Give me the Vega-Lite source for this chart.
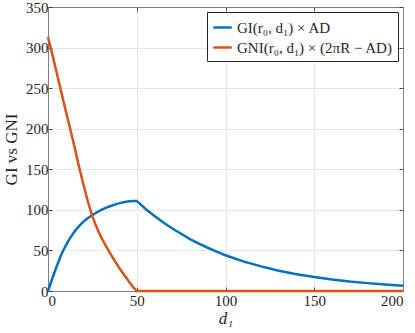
{
  "$schema": "https://vega.github.io/schema/vega-lite/v6.json",
  "width": 355,
  "height": 284,
  "autosize": {"type": "none"},
  "padding": {"left": 48, "top": 7, "right": 12, "bottom": 42},
  "background": "white",
  "config": {
    "view": {"stroke": null},
    "font": "Liberation Serif"
  },
  "datasets": {
    "curves": [
      {"d": 0, "v": 0, "s": "GI(r₀, d₁) × AD"},
      {"d": 2.5, "v": 16, "s": "GI(r₀, d₁) × AD"},
      {"d": 5, "v": 31, "s": "GI(r₀, d₁) × AD"},
      {"d": 7.5, "v": 45, "s": "GI(r₀, d₁) × AD"},
      {"d": 10, "v": 56, "s": "GI(r₀, d₁) × AD"},
      {"d": 12.5, "v": 65.5, "s": "GI(r₀, d₁) × AD"},
      {"d": 15, "v": 73.5, "s": "GI(r₀, d₁) × AD"},
      {"d": 17.5, "v": 80, "s": "GI(r₀, d₁) × AD"},
      {"d": 20, "v": 85.5, "s": "GI(r₀, d₁) × AD"},
      {"d": 22.5, "v": 90, "s": "GI(r₀, d₁) × AD"},
      {"d": 25, "v": 93.5, "s": "GI(r₀, d₁) × AD"},
      {"d": 27.5, "v": 97, "s": "GI(r₀, d₁) × AD"},
      {"d": 30, "v": 100, "s": "GI(r₀, d₁) × AD"},
      {"d": 32.5, "v": 102.5, "s": "GI(r₀, d₁) × AD"},
      {"d": 35, "v": 104.5, "s": "GI(r₀, d₁) × AD"},
      {"d": 37.5, "v": 106.5, "s": "GI(r₀, d₁) × AD"},
      {"d": 40, "v": 108, "s": "GI(r₀, d₁) × AD"},
      {"d": 42.5, "v": 109.3, "s": "GI(r₀, d₁) × AD"},
      {"d": 45, "v": 110.2, "s": "GI(r₀, d₁) × AD"},
      {"d": 47.5, "v": 110.8, "s": "GI(r₀, d₁) × AD"},
      {"d": 50, "v": 111, "s": "GI(r₀, d₁) × AD"},
      {"d": 55, "v": 101, "s": "GI(r₀, d₁) × AD"},
      {"d": 60, "v": 92.5, "s": "GI(r₀, d₁) × AD"},
      {"d": 65, "v": 84.5, "s": "GI(r₀, d₁) × AD"},
      {"d": 70, "v": 77, "s": "GI(r₀, d₁) × AD"},
      {"d": 75, "v": 70.5, "s": "GI(r₀, d₁) × AD"},
      {"d": 80, "v": 64, "s": "GI(r₀, d₁) × AD"},
      {"d": 85, "v": 58.5, "s": "GI(r₀, d₁) × AD"},
      {"d": 90, "v": 53.3, "s": "GI(r₀, d₁) × AD"},
      {"d": 95, "v": 48.5, "s": "GI(r₀, d₁) × AD"},
      {"d": 100, "v": 44, "s": "GI(r₀, d₁) × AD"},
      {"d": 110, "v": 36.5, "s": "GI(r₀, d₁) × AD"},
      {"d": 120, "v": 30.3, "s": "GI(r₀, d₁) × AD"},
      {"d": 130, "v": 25, "s": "GI(r₀, d₁) × AD"},
      {"d": 140, "v": 20.7, "s": "GI(r₀, d₁) × AD"},
      {"d": 150, "v": 17.2, "s": "GI(r₀, d₁) × AD"},
      {"d": 160, "v": 14.2, "s": "GI(r₀, d₁) × AD"},
      {"d": 170, "v": 11.7, "s": "GI(r₀, d₁) × AD"},
      {"d": 180, "v": 9.7, "s": "GI(r₀, d₁) × AD"},
      {"d": 190, "v": 8, "s": "GI(r₀, d₁) × AD"},
      {"d": 200, "v": 6.6, "s": "GI(r₀, d₁) × AD"},
      {"d": 0, "v": 313, "s": "GNI(r₀, d₁) × (2πR − AD)"},
      {"d": 2.5, "v": 291, "s": "GNI(r₀, d₁) × (2πR − AD)"},
      {"d": 5, "v": 268, "s": "GNI(r₀, d₁) × (2πR − AD)"},
      {"d": 7.5, "v": 245, "s": "GNI(r₀, d₁) × (2πR − AD)"},
      {"d": 10, "v": 222, "s": "GNI(r₀, d₁) × (2πR − AD)"},
      {"d": 12.5, "v": 200, "s": "GNI(r₀, d₁) × (2πR − AD)"},
      {"d": 15, "v": 177, "s": "GNI(r₀, d₁) × (2πR − AD)"},
      {"d": 17.5, "v": 153, "s": "GNI(r₀, d₁) × (2πR − AD)"},
      {"d": 20, "v": 131, "s": "GNI(r₀, d₁) × (2πR − AD)"},
      {"d": 22.5, "v": 110, "s": "GNI(r₀, d₁) × (2πR − AD)"},
      {"d": 25, "v": 92, "s": "GNI(r₀, d₁) × (2πR − AD)"},
      {"d": 27.5, "v": 78, "s": "GNI(r₀, d₁) × (2πR − AD)"},
      {"d": 30, "v": 66, "s": "GNI(r₀, d₁) × (2πR − AD)"},
      {"d": 32.5, "v": 56, "s": "GNI(r₀, d₁) × (2πR − AD)"},
      {"d": 35, "v": 46.5, "s": "GNI(r₀, d₁) × (2πR − AD)"},
      {"d": 37.5, "v": 37.5, "s": "GNI(r₀, d₁) × (2πR − AD)"},
      {"d": 40, "v": 29, "s": "GNI(r₀, d₁) × (2πR − AD)"},
      {"d": 42.5, "v": 21, "s": "GNI(r₀, d₁) × (2πR − AD)"},
      {"d": 45, "v": 13.5, "s": "GNI(r₀, d₁) × (2πR − AD)"},
      {"d": 47.5, "v": 6, "s": "GNI(r₀, d₁) × (2πR − AD)"},
      {"d": 50, "v": 0, "s": "GNI(r₀, d₁) × (2πR − AD)"},
      {"d": 100, "v": 0, "s": "GNI(r₀, d₁) × (2πR − AD)"},
      {"d": 150, "v": 0, "s": "GNI(r₀, d₁) × (2πR − AD)"},
      {"d": 200, "v": 0, "s": "GNI(r₀, d₁) × (2πR − AD)"}
    ]
  },
  "data": {"name": "curves"},
  "resolve": {"axis": {"x": "independent", "y": "independent"}},
  "layer": [
    {
      "mark": {"type": "line", "strokeWidth": 2.5, "clip": false},
      "encoding": {
        "x": {
          "field": "d", "type": "quantitative",
          "scale": {"domain": [0, 200], "nice": false, "zero": false},
          "axis": {
            "orient": "bottom", "values": [0, 50, 100, 150, 200],
            "tickSize": -4, "tickColor": "#262626", "tickWidth": 0.8,
            "domainColor": "#808080", "domainWidth": 1,
            "grid": true, "gridColor": "#e6e6e6", "gridWidth": 1,
            "labelFont": "Liberation Serif", "labelFontSize": 15, "labelColor": "#262626",
            "labelPadding": 6,
            "title": "d₁", "titleFont": "Liberation Serif", "titleFontSize": 17,
            "titleFontStyle": "italic", "titleFontWeight": "normal", "titleColor": "#262626",
            "titlePadding": 2
          }
        },
        "y": {
          "field": "v", "type": "quantitative",
          "scale": {"domain": [0, 350], "nice": false, "zero": false},
          "axis": {
            "orient": "left", "values": [0, 50, 100, 150, 200, 250, 300, 350],
            "tickSize": -4, "tickColor": "#262626", "tickWidth": 0.8,
            "domainColor": "#808080", "domainWidth": 1,
            "grid": true, "gridColor": "#e6e6e6", "gridWidth": 1,
            "labelFont": "Liberation Serif", "labelFontSize": 15, "labelColor": "#262626",
            "labelPadding": 4,
            "title": "GI vs GNI", "titleFont": "Liberation Serif", "titleFontSize": 17,
            "titleFontWeight": "normal", "titleColor": "#262626",
            "titlePadding": 5
          }
        },
        "color": {
          "field": "s", "type": "nominal",
          "scale": {
            "domain": ["GI(r₀, d₁) × AD", "GNI(r₀, d₁) × (2πR − AD)"],
            "range": ["#0072BD", "#D95319"]
          },
          "legend": {
            "title": null, "orient": "top-right", "offset": 5,
            "fillColor": "white", "strokeColor": "#262626",
            "padding": 5, "symbolType": "stroke", "symbolStrokeWidth": 2.5,
            "symbolSize": 340, "labelFont": "Liberation Serif", "labelFontSize": 15,
            "labelColor": "#262626", "labelOffset": 4, "rowPadding": 1
          }
        }
      }
    },
    {
      "mark": {"type": "point", "opacity": 0},
      "encoding": {
        "x": {
          "field": "d", "type": "quantitative",
          "scale": {"domain": [0, 200], "nice": false, "zero": false},
          "axis": {
            "orient": "top", "values": [0, 50, 100, 150, 200],
            "tickSize": -4, "tickColor": "#262626", "tickWidth": 0.8,
            "domainColor": "#808080", "domainWidth": 1,
            "grid": false, "labels": false, "title": null
          }
        },
        "y": {
          "field": "v", "type": "quantitative",
          "scale": {"domain": [0, 350], "nice": false, "zero": false},
          "axis": {
            "orient": "right", "values": [0, 50, 100, 150, 200, 250, 300, 350],
            "tickSize": -4, "tickColor": "#262626", "tickWidth": 0.8,
            "domainColor": "#808080", "domainWidth": 1,
            "grid": false, "labels": false, "title": null
          }
        }
      }
    }
  ]
}
